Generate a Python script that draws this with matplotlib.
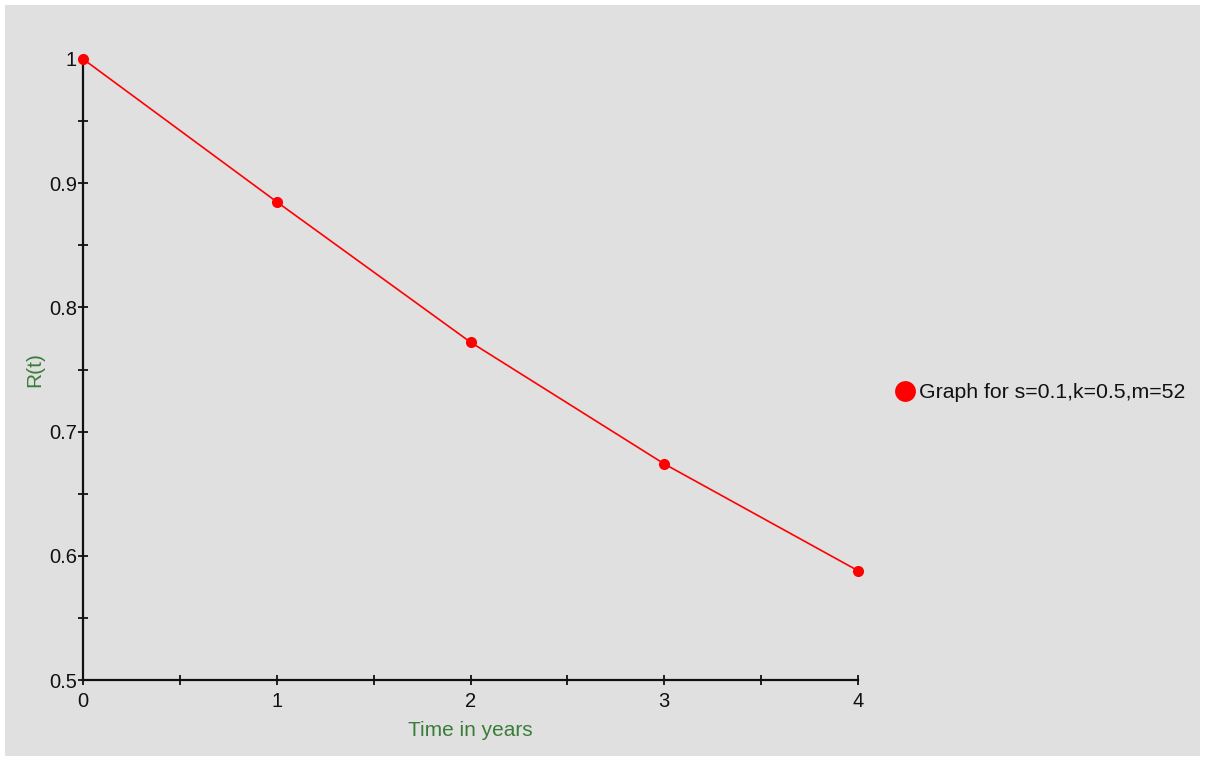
import matplotlib
matplotlib.use("Agg")
import matplotlib.pyplot as plt
from matplotlib.lines import Line2D
from matplotlib.patches import Rectangle
from matplotlib.ticker import MultipleLocator

years = [0, 1, 2, 3, 4]
reliability = [1.0, 0.885, 0.772, 0.674, 0.588]
series_label = "Graph for s=0.1,k=0.5,m=52"
x_ticks = [0, 1, 2, 3, 4]
y_ticks = [0.5, 0.6, 0.7, 0.8, 0.9, 1.0]
y_tick_labels = ["0.5", "0.6", "0.7", "0.8", "0.9", "1"]

plt.rcParams["font.family"] = ["Liberation Sans", "DejaVu Sans"]

W, H = 1205, 760
fig = plt.figure(figsize=(W / 100, H / 100), dpi=100, facecolor="white")
fig.patches.append(Rectangle((5 / W, 4 / H), 1195 / W, 751 / H,
                             transform=fig.transFigure, facecolor="#e0e0e0",
                             edgecolor="none", zorder=-10))

left, right, top, bottom = 83, 858, 59, 680
ax = fig.add_axes([left / W, 1 - bottom / H, (right - left) / W, (bottom - top) / H])
ax.set_facecolor("none")

ax.plot(years, reliability, color="#ff0000", linewidth=1.2, marker="o",
        markersize=8, markeredgewidth=0, clip_on=False, zorder=5)

ax.set_xlim(0, 4)
ax.set_ylim(0.5, 1.0)
ax.set_xticks(x_ticks)
ax.set_yticks(y_ticks)
ax.set_yticklabels(y_tick_labels)
ax.xaxis.set_minor_locator(MultipleLocator(0.5))
ax.yaxis.set_minor_locator(MultipleLocator(0.05))

for s in ("top", "right"):
    ax.spines[s].set_visible(False)
for s in ("left", "bottom"):
    ax.spines[s].set_linewidth(1.6)
    ax.spines[s].set_color("#111111")

ax.tick_params(which="both", direction="inout", length=7, width=1.3,
               color="#111111", labelsize=14.5, labelcolor="#111111")
ax.tick_params(axis="x", which="major", pad=5)
ax.tick_params(axis="y", which="major", pad=1)

green = "#3a7d3a"
ax.set_xlabel("Time in years", color=green, fontsize=15, labelpad=7)
ax.set_ylabel("R(t)", color=green, fontsize=15, labelpad=3)

handle = Line2D([], [], color="#ff0000", marker="o", linestyle="none",
                markersize=15, markeredgewidth=0)
fig.legend(handles=[handle], labels=[series_label], loc="center left",
           bbox_to_anchor=(886 / W, 1 - 393 / H), frameon=False,
           fontsize=15.3, handletextpad=0.15, borderaxespad=0,
           handlelength=1.0, labelcolor="#111111")

fig.savefig("out.png", dpi=100, facecolor="white")
